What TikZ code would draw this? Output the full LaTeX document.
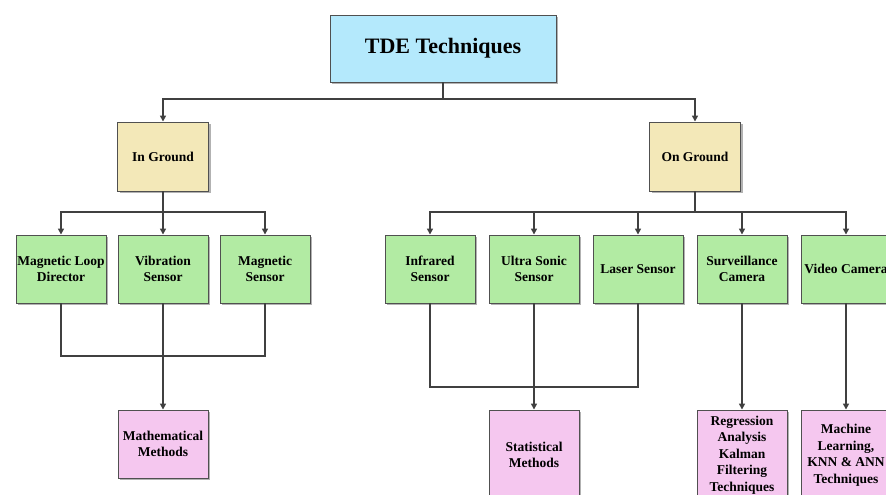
\documentclass[tikz,border=0pt]{standalone}
\usepackage{fontspec}
\setmainfont{Liberation Serif}
\usetikzlibrary{shadows,arrows.meta}
\definecolor{rootblue}{HTML}{B4E9FC}
\definecolor{groupyellow}{HTML}{F3E8B8}
\definecolor{sensorgreen}{HTML}{B2EBA3}
\definecolor{methodpink}{HTML}{F5C7EF}
\definecolor{boxedge}{HTML}{505050}
\definecolor{linegray}{HTML}{404040}
\begin{document}
\begin{tikzpicture}[x=1pt,y=-1pt,
  box/.style={draw=boxedge, line width=0.9pt,
    font=\fontsize{13.5}{16.5}\selectfont\bfseries, align=center,
    minimum width=90pt, minimum height=68pt, inner sep=0pt,
    drop shadow={shadow xshift=2pt, shadow yshift=-2pt, fill=black!30, opacity=1}},
  rootbox/.style={box, fill=rootblue, minimum width=226pt, minimum height=67pt,
    font=\fontsize{22}{26}\selectfont\bfseries},
  groupbox/.style={box, fill=groupyellow, minimum width=91pt, minimum height=69pt},
  sensorbox/.style={box, fill=sensorgreen},
  methodbox/.style={box, fill=methodpink},
  tallbox/.style={methodbox, minimum height=90pt},
  conn/.style={draw=linegray, line width=1.6pt},
  arr/.style={conn, -{Triangle[length=6pt,width=6pt]}}]
\useasboundingbox (0,0) rectangle (886,495);
\clip (0,0) rectangle (886,495);

% root
\node[rootbox] (root) at (443,48.5) {TDE Techniques};

% groups
\node[groupbox] (ing) at (163,156.5) {In Ground};
\node[groupbox] (ong) at (695,156.5) {On Ground};

% sensors
\node[sensorbox] (mloop) at (61,269) {Magnetic Loop\\Director};
\node[sensorbox] (vib)   at (163,269) {Vibration\\Sensor};
\node[sensorbox] (msens) at (265,269) {Magnetic\\Sensor};
\node[sensorbox] (infra) at (430,269) {Infrared\\Sensor};
\node[sensorbox] (ultra) at (534,269) {Ultra Sonic\\Sensor};
\node[sensorbox] (laser) at (638,269) {Laser Sensor};
\node[sensorbox] (surv)  at (742,269) {Surveillance\\Camera};
\node[sensorbox] (video) at (846,269) {Video Camera};

% methods
\node[methodbox] (math) at (163,444) {Mathematical\\Methods};
\node[tallbox] (stat) at (534,455) {Statistical\\Methods};
\node[tallbox] (regr) at (742,455) {Regression\\Analysis\\Kalman\\Filtering\\Techniques};
\node[tallbox] (ml)   at (846,455) {Machine\\Learning,\\KNN \& ANN\\Techniques};

% junction points
\coordinate (rj) at (443,99);
\coordinate (ij) at (163,212);
\coordinate (oj) at (695,212);
\coordinate (mj) at (163,356);
\coordinate (sj) at (534,387);

% root to groups
\draw[conn] (root.south) -- (rj);
\draw[arr] (rj) -| (ing.north);
\draw[arr] (rj) -| (ong.north);

% in ground sensors
\draw[conn] (ing.south) -- (ij);
\draw[arr] (ij) -| (mloop.north);
\draw[arr] (ing.south) -- (vib.north);
\draw[arr] (ij) -| (msens.north);

% on ground sensors
\draw[conn] (ong.south) -- (oj);
\draw[arr] (oj) -| (infra.north);
\draw[arr] (oj) -| (ultra.north);
\draw[arr] (oj) -| (laser.north);
\draw[arr] (oj) -| (surv.north);
\draw[arr] (oj) -| (video.north);

% sensors to methods
\draw[conn] (mloop.south) |- (mj) -| (msens.south);
\draw[arr] (vib.south) -- (math.north);
\draw[conn] (infra.south) |- (sj) -| (laser.south);
\draw[arr] (ultra.south) -- (stat.north);
\draw[arr] (surv.south) -- (regr.north);
\draw[arr] (video.south) -- (ml.north);
\end{tikzpicture}
\end{document}
